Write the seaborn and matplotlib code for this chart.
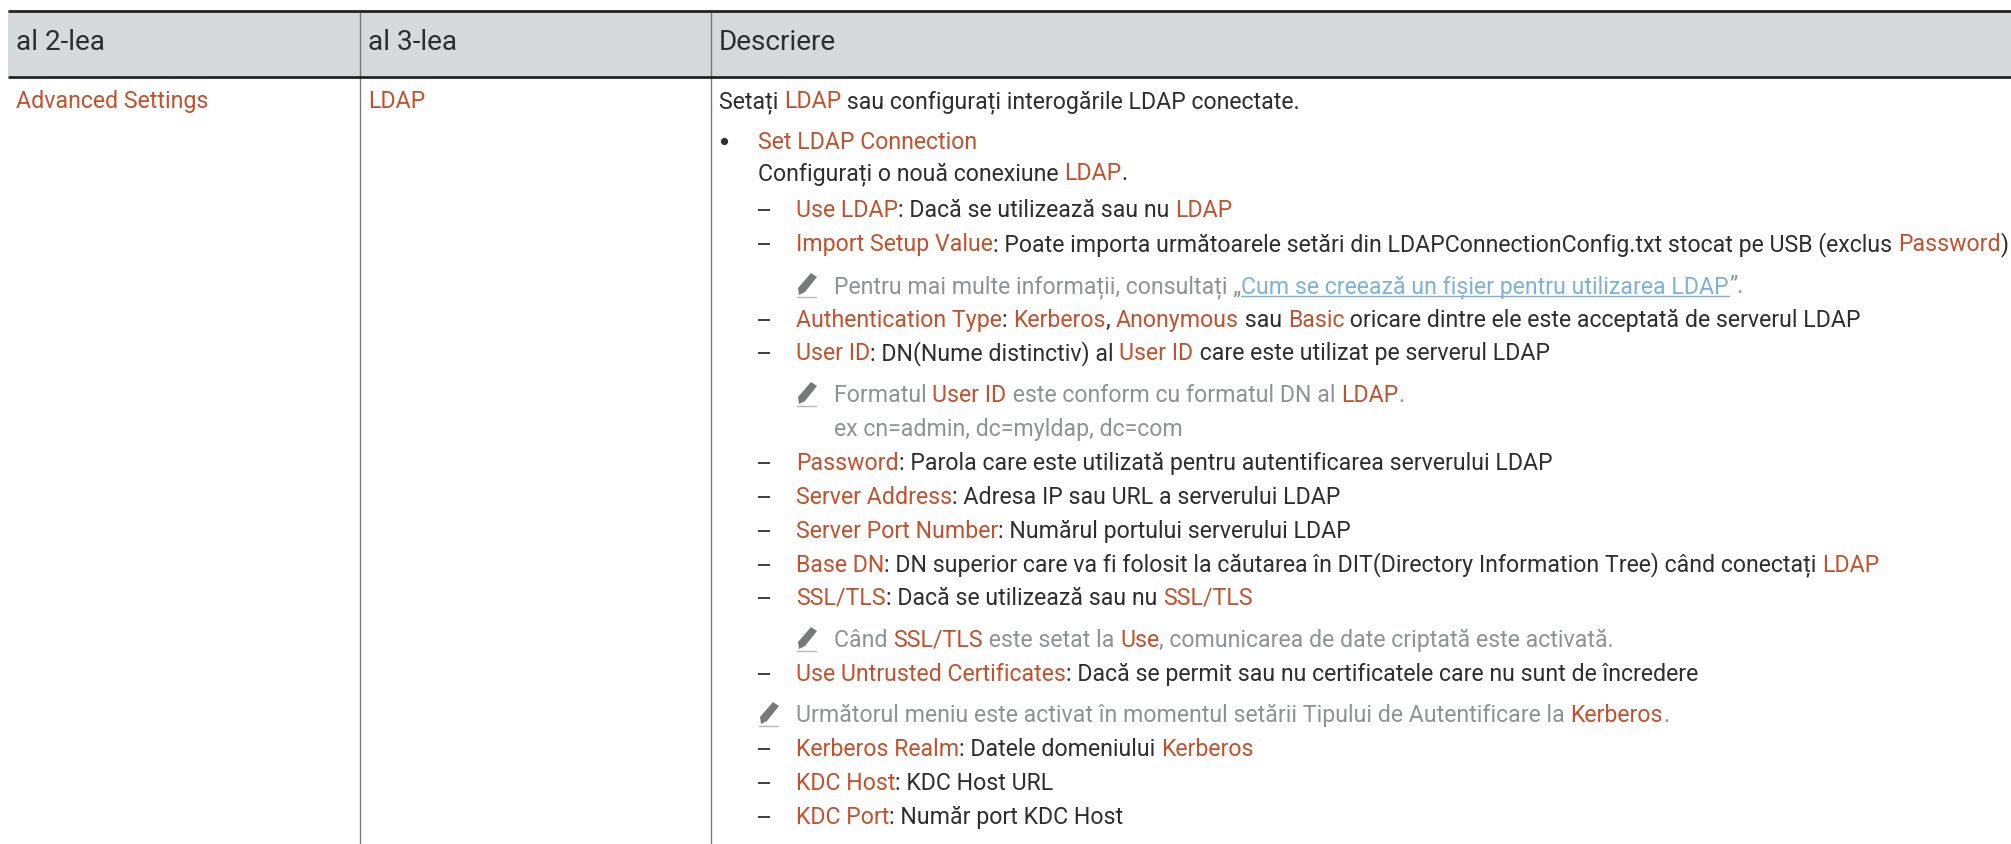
import matplotlib
matplotlib.use("Agg")
import matplotlib.pyplot as plt
from matplotlib.patches import Polygon
import seaborn as sns

W, H = 2011, 844
FONT = ["Roboto", "DejaVu Sans"]
BODY_PX = 23.1
HEAD_PX = 28.0

ORANGE = "#c4512d"
DARK = "#2e2e2e"
GREY = "#8f9294"
LINK = "#7db1dc"
HEAD_BG = "#d8d9db"
RULE = "#222222"
VLINE = "#77797b"

headers = ["al 2-lea", "al 3-lea", "Descriere"]
header_x = [16, 368, 719]
column_rules = [360, 711]
menu_level2 = "Advanced Settings"
menu_level3 = "LDAP"

# (centre y, left x, marker, runs); run = (text, colour key)
O, D, G, L = "o", "d", "g", "l"
lines = [
    (100, 719, None, [("Setați ", D), ("LDAP", O), (" sau configurați interogările LDAP conectate.", D)]),
    (141, 758, "bullet", [("Set LDAP Connection", O)]),
    (172, 758, None, [("Configurați o nouă conexiune ", D), ("LDAP", O), (".", D)]),
    (209, 796, "dash", [("Use LDAP", O), (": Dacă se utilizează sau nu ", D), ("LDAP", O)]),
    (243, 796, "dash", [("Import Setup Value", O), (": Poate importa următoarele setări din LDAPConnectionConfig.txt stocat pe USB (exclus ", D), ("Password", O), (")", D)]),
    (285, 834, "pencil", [("Pentru mai multe informații, consultați „", G), ("Cum se creează un fișier pentru utilizarea LDAP", L), ("”.", G)]),
    (319, 796, "dash", [("Authentication Type", O), (": ", D), ("Kerberos", O), (", ", D), ("Anonymous", O), (" sau ", D), ("Basic", O), (" oricare dintre ele este acceptată de serverul LDAP", D)]),
    (352, 796, "dash", [("User ID", O), (": DN(Nume distinctiv) al ", D), ("User ID", O), (" care este utilizat pe serverul LDAP", D)]),
    (394, 834, "pencil", [("Formatul ", G), ("User ID", O), (" este conform cu formatul DN al ", G), ("LDAP", O), (".", G)]),
    (428, 834, None, [("ex cn=admin, dc=myldap, dc=com", G)]),
    (462, 796, "dash", [("Password", O), (": Parola care este utilizată pentru autentificarea serverului LDAP", D)]),
    (496, 796, "dash", [("Server Address", O), (": Adresa IP sau URL a serverului LDAP", D)]),
    (530, 796, "dash", [("Server Port Number", O), (": Numărul portului serverului LDAP", D)]),
    (564, 796, "dash", [("Base DN", O), (": DN superior care va fi folosit la căutarea în DIT(Directory Information Tree) când conectați ", D), ("LDAP", O)]),
    (597, 796, "dash", [("SSL/TLS", O), (": Dacă se utilizează sau nu ", D), ("SSL/TLS", O)]),
    (639, 834, "pencil", [("Când ", G), ("SSL/TLS", O), (" este setat la ", G), ("Use", O), (", comunicarea de date criptată este activată.", G)]),
    (673, 796, "dash", [("Use Untrusted Certificates", O), (": Dacă se permit sau nu certificatele care nu sunt de încredere", D)]),
    (714, 796, "pencil2", [("Următorul meniu este activat în momentul setării Tipului de Autentificare la ", G), ("Kerberos", O), (".", G)]),
    (748, 796, "dash", [("Kerberos Realm", O), (": Datele domeniului ", D), ("Kerberos", O)]),
    (782, 796, "dash", [("KDC Host", O), (": KDC Host URL", D)]),
    (816, 796, "dash", [("KDC Port", O), (": Număr port KDC Host", D)]),
]
colours = {O: ORANGE, D: DARK, G: GREY, L: LINK}

sns.set_theme(style="white")
plt.rcParams["font.family"] = FONT
fig = plt.figure(figsize=(W / 100, H / 100), dpi=100, facecolor="white")
ax = fig.add_axes([0, 0, 1, 1])
ax.set_xlim(0, W)
ax.set_ylim(H, 0)
ax.axis("off")
renderer = fig.canvas.get_renderer()


def fs(px):
    return px * 0.72


def advance(text, px):
    probe = ax.text(0, 0, text + "|", fontsize=fs(px))
    base = ax.text(0, 0, "|", fontsize=fs(px))
    w = probe.get_window_extent(renderer).width - base.get_window_extent(renderer).width
    probe.remove()
    base.remove()
    return w


def pencil(x, y):
    """Small note icon; x is its left edge, y its vertical centre."""
    top = y - 13
    body = [(x + 14, top + 1), (x + 20, top + 5), (x + 8, top + 20), (x + 2, top + 23), (x + 1, top + 16)]
    ax.add_patch(Polygon(body, closed=True, facecolor="#77797b", edgecolor="none", zorder=3))
    ax.plot([x, x + 19], [top + 25, top + 25], color="#b5b7b9", lw=1.0, zorder=3)


# header band and rules
ax.axhspan(11, 76, xmin=8 / W, xmax=1, color=HEAD_BG, lw=0, zorder=0)
for y in (11, 76.5):
    ax.plot([8, W], [y, y], color=RULE, lw=2.0, solid_capstyle="butt", zorder=2)
for x in column_rules:
    ax.plot([x, x], [11, H], color=VLINE, lw=1.0, solid_capstyle="butt", zorder=1)

for x, label in zip(header_x, headers):
    ax.text(x, 50, label, fontsize=fs(HEAD_PX), color=DARK, va="baseline", ha="left")

ax.text(header_x[0], 108, menu_level2, fontsize=fs(BODY_PX), color=ORANGE, va="baseline")
ax.text(header_x[1], 108, menu_level3, fontsize=fs(BODY_PX), color=ORANGE, va="baseline")

for y, x0, marker, runs in lines:
    base = y + 8
    if marker == "bullet":
        ax.plot([724.5], [y], "o", ms=5.2, color=DARK, mew=0)
    elif marker == "dash":
        ax.plot([758, 770], [y + 1, y + 1], color=DARK, lw=1.3, solid_capstyle="butt")
    elif marker == "pencil":
        pencil(797, y)
    elif marker == "pencil2":
        pencil(759, y)
    x = x0
    for text, key in runs:
        ax.text(x, base, text, fontsize=fs(BODY_PX), color=colours[key], va="baseline", ha="left")
        w = advance(text, BODY_PX)
        if key == L:
            ax.plot([x, x + w], [base + 3, base + 3], color=LINK, lw=1.0)
        x += w

fig.savefig("out.png", dpi=100, facecolor="white")
